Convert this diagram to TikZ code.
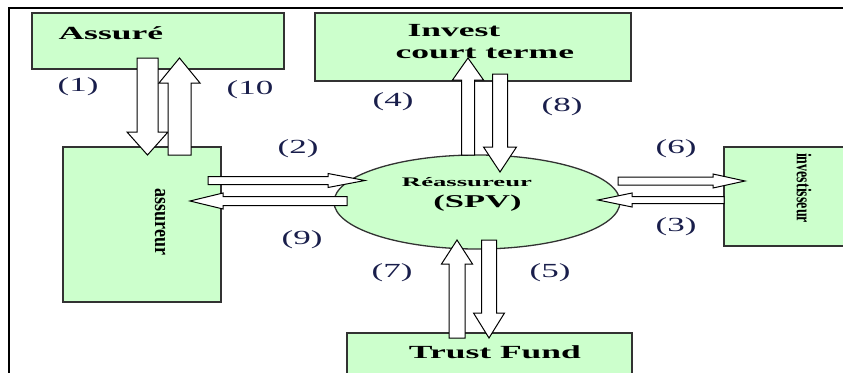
\documentclass[tikz,border=0pt]{standalone}
\usepackage{fontspec}
\setmainfont{Liberation Serif}
\usetikzlibrary{calc,shapes.geometric}

\definecolor{boxfill}{RGB}{204,255,204}
\definecolor{boxline}{RGB}{50,50,50}
\definecolor{numblue}{RGB}{25,30,75}

% block arrow: from, tip, half shaft, half head, head length
\newcommand{\flow}[5]{%
  \coordinate (fh) at ($(#2)!#5pt!(#1)$);
  \draw[flowarrow] ($(#1)!#3pt!90:(#2)$) -- ($(fh)!#3pt!-90:(#1)$)
    -- ($(fh)!#4pt!-90:(#1)$) -- (#2) -- ($(fh)!#4pt!90:(#1)$)
    -- ($(fh)!#3pt!90:(#1)$) -- ($(#1)!#3pt!-90:(#2)$) -- cycle;}

\begin{document}
\begin{tikzpicture}[x=1pt,y=-1pt,semithick]
  \tikzstyle{box}=[draw=boxline,fill=boxfill,line width=1.3pt,inner sep=0pt]
  \tikzstyle{title}=[font=\bfseries\fontsize{18.5}{22}\selectfont,inner sep=0pt,xscale=1.92]
  \tikzstyle{side}=[inner sep=0pt,rotate=-90]
  \tikzstyle{num}=[text=numblue,font=\fontsize{20}{24}\selectfont,inner sep=0pt,xscale=1.75]
  \tikzstyle{flowarrow}=[draw=black,fill=white,line width=1pt,line join=miter]

  \useasboundingbox (0,0) rectangle (843,372);
  \clip (0,0) rectangle (843,372);
  \draw[line width=2pt] (9,380) -- (9,8) -- (850,8);

  \node[box,minimum width=252pt,minimum height=56pt]  (assure)       at (158,41)    {};
  \node[box,minimum width=316pt,minimum height=68pt]  (invest)       at (473,47)    {};
  \node[box,minimum width=158pt,minimum height=155pt] (assureur)     at (142,224.5) {};
  \node[box,minimum width=136pt,minimum height=99pt]  (investisseur) at (792,196.5) {};
  \node[box,minimum width=285pt,minimum height=67pt]  (trust)        at (489.5,366.5) {};
  \node[box,ellipse,minimum width=286pt,minimum height=94pt] (spv)  at (477,202)   {};

  \node[title,anchor=base west] (assuretxt) at (58,39)  {Assuré};
  \node[title,anchor=base west] (investtxt) at (407,36) {Invest};
  \node[title,anchor=base west] (courttxt)  at (395,58) {court terme};
  \node[title,anchor=base]      (trusttxt)  at (495,358) {Trust Fund};
  \node[title,anchor=base,font=\bfseries\fontsize{13}{15}\selectfont,xscale=1.07] (reasstxt) at (467,186) {Réassureur};
  \node[title,anchor=base,font=\bfseries\fontsize{18}{21}\selectfont] (spvtxt) at (477.5,207) {(SPV)};
  \node[side,font=\bfseries\fontsize{18}{22}\selectfont,yscale=1.2] (assureurtxt) at (160,222) {assureur};
  \node[side,font=\bfseries\fontsize{14}{17}\selectfont,yscale=1.5] (investisseurtxt) at (804,188) {investisseur};

  \node[num] (n1)  at (78,87)   {(1)};
  \node[num] (n10) at (250,90)  {(10};
  \node[num] (n4)  at (393,102) {(4)};
  \node[num] (n8)  at (562,107) {(8)};
  \node[num] (n2)  at (298,149) {(2)};
  \node[num] (n6)  at (676,149) {(6)};
  \node[num] (n9)  at (302,240) {(9)};
  \node[num] (n3)  at (676,227) {(3)};
  \node[num] (n7)  at (392,273) {(7)};
  \node[num] (n5)  at (550,273) {(5)};

  % ends of the flows
  \coordinate (f1a)  at (147.5,58);  \coordinate (f1b)  at (147.5,155);
  \coordinate (f10a) at (179.5,155); \coordinate (f10b) at (179.5,58);
  \coordinate (f4a)  at (468,155);   \coordinate (f4b)  at (468,58);
  \coordinate (f8a)  at (500,74);    \coordinate (f8b)  at (500,172);
  \coordinate (f2a)  at (208,180.5); \coordinate (f2b)  at (365,180.5);
  \coordinate (f9a)  at (347,201);   \coordinate (f9b)  at (190,201);
  \coordinate (f6a)  at (618,181);   \coordinate (f6b)  at (745,181);
  \coordinate (f3a)  at (724,200);   \coordinate (f3b)  at (598,200);
  \coordinate (f7a)  at (457,338);   \coordinate (f7b)  at (457,240);
  \coordinate (f5a)  at (489,240);   \coordinate (f5b)  at (489,338);

  \flow{f1a}{f1b}{10.5}{20.5}{23}
  \flow{f10a}{f10b}{11.5}{20.5}{25}
  \flow{f4a}{f4b}{6.5}{15.5}{22}
  \flow{f8a}{f8b}{7.5}{16.5}{25}
  \flow{f2a}{f2b}{4}{7}{37}
  \flow{f9a}{f9b}{4.5}{8}{33}
  \flow{f6a}{f6b}{4}{7}{32}
  \flow{f3a}{f3b}{3.5}{7}{34}
  \flow{f7a}{f7b}{8}{15.5}{24}
  \flow{f5a}{f5b}{7.5}{15.5}{25}
\end{tikzpicture}
\end{document}
